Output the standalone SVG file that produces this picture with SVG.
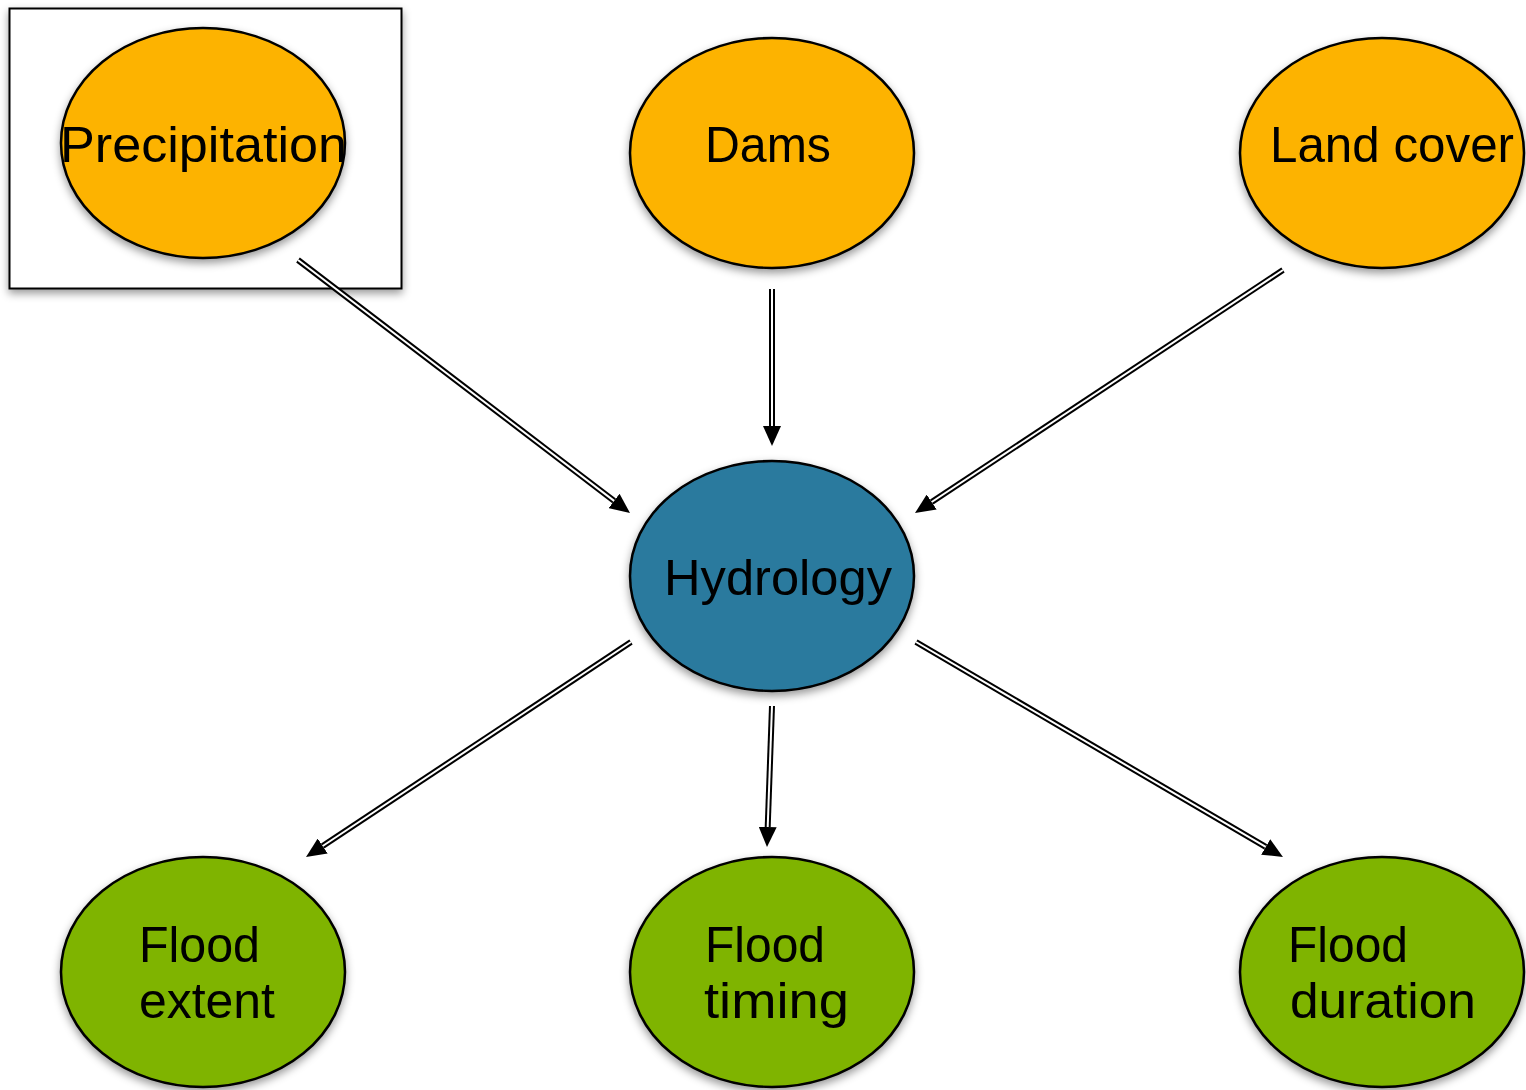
<svg xmlns="http://www.w3.org/2000/svg" width="1526" height="1090" viewBox="0 0 1526 1090">
  <style>
    .node { stroke: #000; stroke-width: 2.5; filter: url(#shadow); }
    .driver { fill: #FDB300; }
    .core { fill: #2C7A9E; }
    .outcome { fill: #7FB406; }
    .label { font-family: "Liberation Sans", Arial, sans-serif; font-size: 50px; fill: #000; }
    .rail { stroke: #000; stroke-width: 6; fill: none; stroke-linecap: butt; }
    .gap { stroke: #fff; stroke-width: 2; fill: none; stroke-linecap: butt; }
  </style>
  <defs>
    <filter id="shadow" x="-20%" y="-20%" width="140%" height="150%">
      <feDropShadow dx="0" dy="4" stdDeviation="4" flood-color="#000" flood-opacity="0.4"/>
    </filter>
    <marker id="head" markerUnits="userSpaceOnUse" markerWidth="20" markerHeight="18" refX="0" refY="9" orient="auto">
      <path d="M0,0 L20,9 L0,18 Z" fill="#000"/>
    </marker>
  </defs>

  <rect id="highlight" x="9.5" y="8.5" width="392" height="280" fill="#fff" stroke="#000" stroke-width="2" filter="url(#shadow)"/>

  <g id="connectors">
    <g id="precip-hydro">
      <line class="rail" x1="298" y1="260" x2="614.1" y2="500.9" marker-end="url(#head)"/>
      <line class="gap" x1="298" y1="260" x2="614.1" y2="500.9"/>
    </g>
    <g id="dams-hydro">
      <line class="rail" x1="772" y1="289" x2="772" y2="426" marker-end="url(#head)"/>
      <line class="gap" x1="772" y1="289" x2="772" y2="426"/>
    </g>
    <g id="land-hydro">
      <line class="rail" x1="1283" y1="270" x2="931.7" y2="502" marker-end="url(#head)"/>
      <line class="gap" x1="1283" y1="270" x2="931.7" y2="502"/>
    </g>
    <g id="hydro-extent">
      <line class="rail" x1="631" y1="642" x2="322.7" y2="846" marker-end="url(#head)"/>
      <line class="gap" x1="631" y1="642" x2="322.7" y2="846"/>
    </g>
    <g id="hydro-timing">
      <line class="rail" x1="772" y1="706" x2="767.7" y2="827" marker-end="url(#head)"/>
      <line class="gap" x1="772" y1="706" x2="767.7" y2="827"/>
    </g>
    <g id="hydro-duration">
      <line class="rail" x1="916" y1="642" x2="1265.7" y2="846.9" marker-end="url(#head)"/>
      <line class="gap" x1="916" y1="642" x2="1265.7" y2="846.9"/>
    </g>
  </g>

  <g id="precipitation">
    <ellipse class="node driver" cx="203" cy="143" rx="142" ry="115"/>
    <text class="label" x="60" y="162" textLength="287" lengthAdjust="spacingAndGlyphs">Precipitation</text>
  </g>
  <g id="dams">
    <ellipse class="node driver" cx="772" cy="153" rx="142" ry="115"/>
    <text class="label" x="705" y="162" textLength="126" lengthAdjust="spacingAndGlyphs">Dams</text>
  </g>
  <g id="land-cover">
    <ellipse class="node driver" cx="1382" cy="153" rx="142" ry="115"/>
    <text class="label" x="1270" y="162" textLength="244" lengthAdjust="spacingAndGlyphs">Land cover</text>
  </g>
  <g id="hydrology">
    <ellipse class="node core" cx="772" cy="576" rx="142" ry="115"/>
    <text class="label" x="664" y="595" textLength="228" lengthAdjust="spacingAndGlyphs">Hydrology</text>
  </g>
  <g id="flood-extent">
    <ellipse class="node outcome" cx="203" cy="972" rx="142" ry="115"/>
    <text class="label" x="139" y="962" textLength="121" lengthAdjust="spacingAndGlyphs">Flood</text>
    <text class="label" x="139" y="1018" textLength="136" lengthAdjust="spacingAndGlyphs">extent</text>
  </g>
  <g id="flood-timing">
    <ellipse class="node outcome" cx="772" cy="972" rx="142" ry="115"/>
    <text class="label" x="705" y="962" textLength="120" lengthAdjust="spacingAndGlyphs">Flood</text>
    <text class="label" x="704" y="1018" textLength="145" lengthAdjust="spacingAndGlyphs">timing</text>
  </g>
  <g id="flood-duration">
    <ellipse class="node outcome" cx="1382" cy="972" rx="142" ry="115"/>
    <text class="label" x="1288" y="962" textLength="120" lengthAdjust="spacingAndGlyphs">Flood</text>
    <text class="label" x="1290" y="1018" textLength="186" lengthAdjust="spacingAndGlyphs">duration</text>
  </g>
</svg>
